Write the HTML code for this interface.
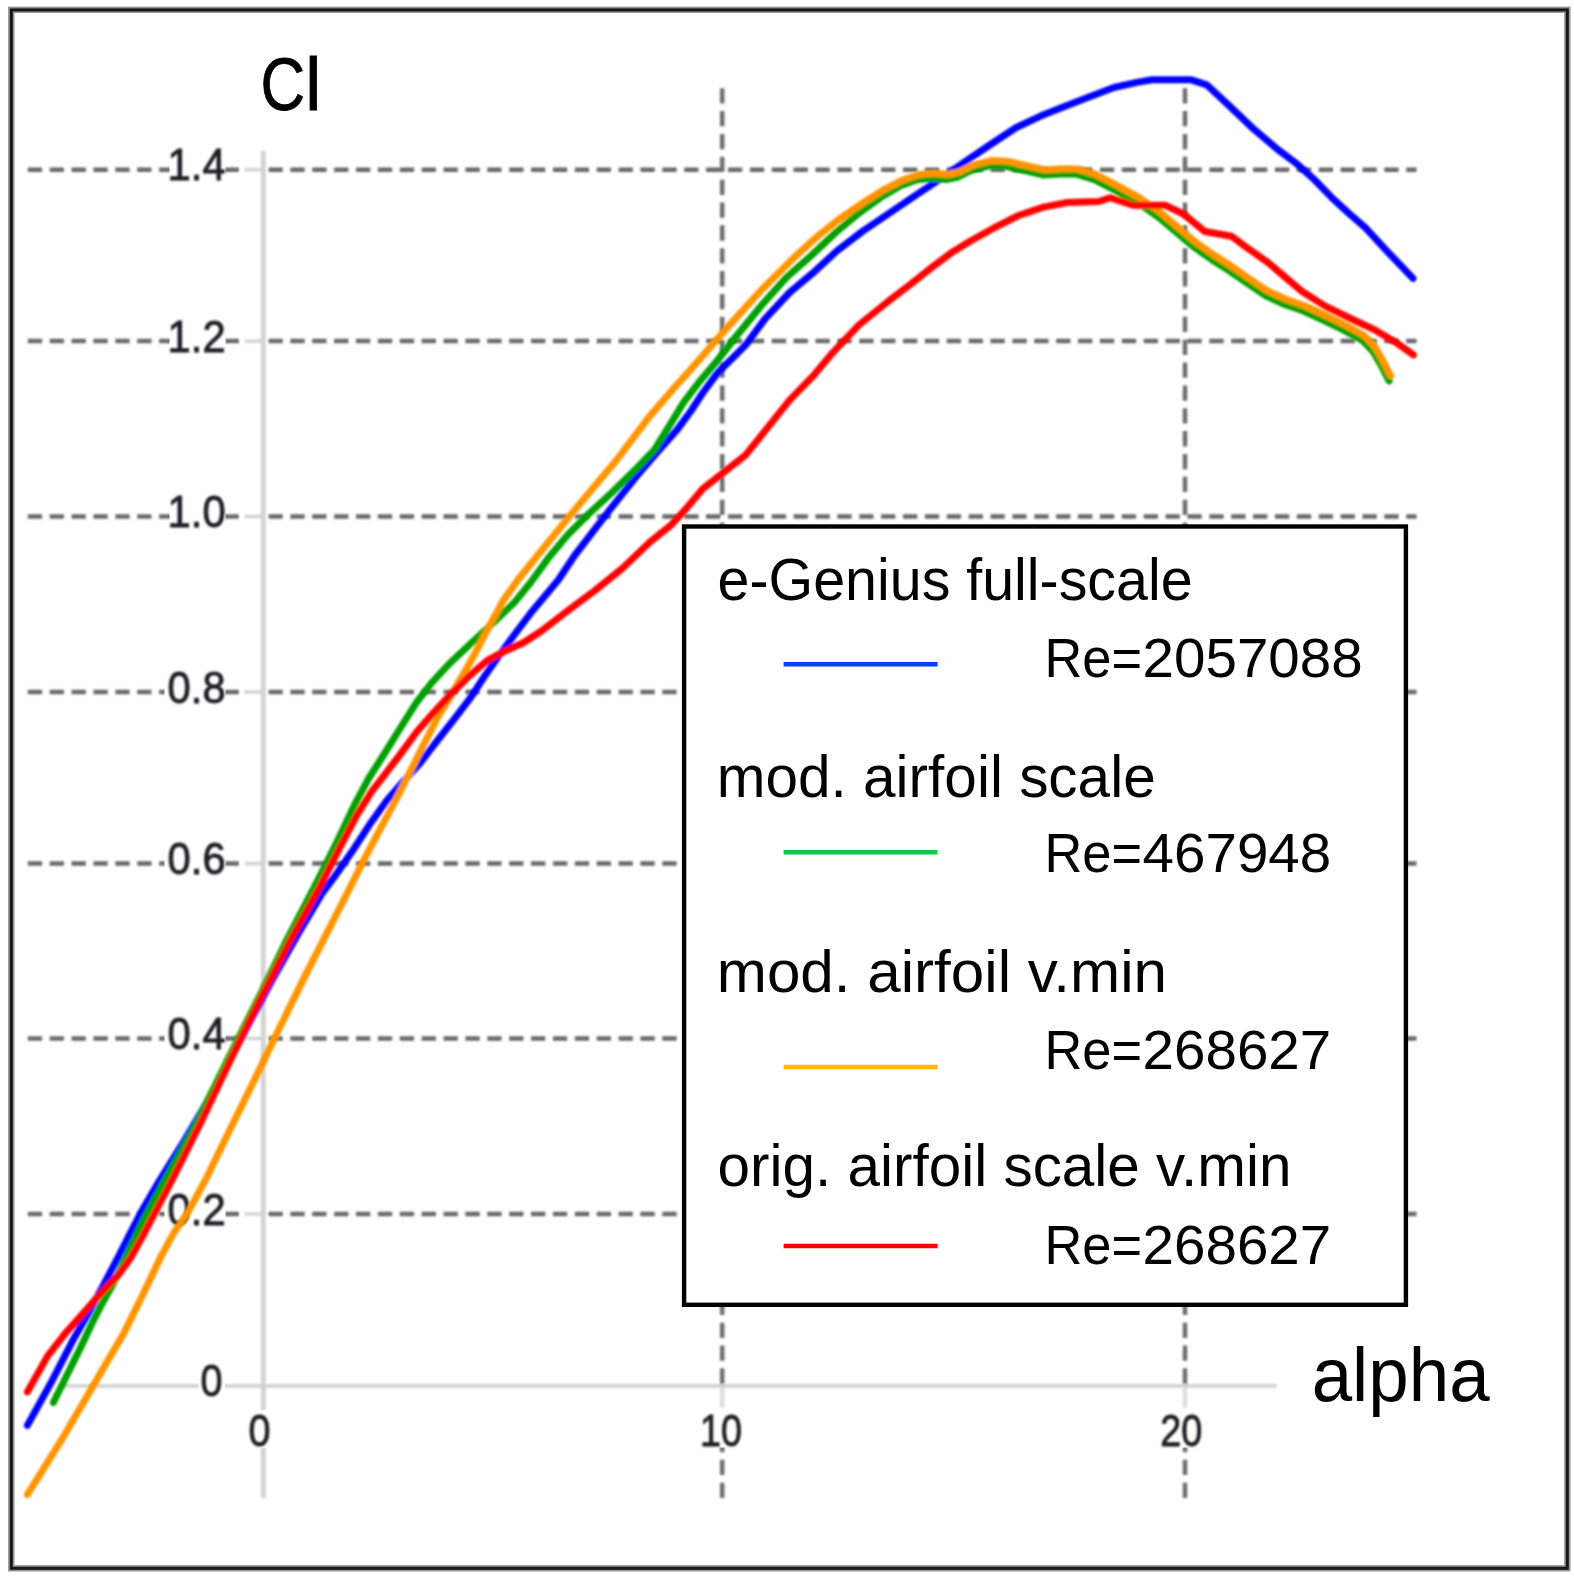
<!DOCTYPE html>
<html lang="en"><head><meta charset="utf-8"><title>Cl vs alpha</title>
<style>
html,body{margin:0;padding:0;background:#fff}
svg{display:block}
text{font-family:"Liberation Sans",sans-serif}
</style></head><body>
<svg width="1574" height="1584" viewBox="0 0 1574 1584">
<defs>
<filter id="b2" x="-5%" y="-5%" width="110%" height="110%"><feGaussianBlur stdDeviation="0.85"/></filter>
<filter id="b4" x="-2%" y="-2%" width="104%" height="104%"><feGaussianBlur stdDeviation="0.55"/></filter>
<filter id="b3" x="-20%" y="-20%" width="140%" height="140%"><feGaussianBlur stdDeviation="0.8"/></filter>
</defs>
<rect x="0" y="0" width="1574" height="1584" fill="#ffffff"/>
<g filter="url(#b4)"><rect x="11.3" y="9.8" width="1556" height="1558.5" fill="none" stroke="#000" stroke-opacity="0.42" stroke-width="6.4"/><rect x="11.3" y="9.9" width="1556" height="1558.4" fill="none" stroke="#121212" stroke-width="2.9"/></g>
<g filter="url(#b2)">
<line x1="27.8" y1="169.8" x2="1416.5" y2="169.8" stroke="#696969" stroke-width="4.5" stroke-dasharray="14.3 7.58"/>
<line x1="27.8" y1="341.1" x2="1416.5" y2="341.1" stroke="#696969" stroke-width="4.5" stroke-dasharray="14.3 7.58"/>
<line x1="27.8" y1="516.5" x2="1416.5" y2="516.5" stroke="#696969" stroke-width="4.5" stroke-dasharray="14.3 7.58"/>
<line x1="27.8" y1="692" x2="1416.5" y2="692" stroke="#696969" stroke-width="4.5" stroke-dasharray="14.3 7.58"/>
<line x1="27.8" y1="863.6" x2="1416.5" y2="863.6" stroke="#696969" stroke-width="4.5" stroke-dasharray="14.3 7.58"/>
<line x1="27.8" y1="1038.4" x2="1416.5" y2="1038.4" stroke="#696969" stroke-width="4.5" stroke-dasharray="14.3 7.58"/>
<line x1="27.8" y1="1214" x2="1416.5" y2="1214" stroke="#696969" stroke-width="4.5" stroke-dasharray="14.3 7.58"/>
<line x1="722.2" y1="88.2" x2="722.2" y2="1498.4" stroke="#6e6e6e" stroke-width="4.5" stroke-dasharray="15.3 7.56"/>
<line x1="1185.0" y1="88.2" x2="1185.0" y2="1498.4" stroke="#6e6e6e" stroke-width="4.5" stroke-dasharray="15.3 7.56"/>
<line x1="240" y1="169.8" x2="267" y2="169.8" stroke="#fff" stroke-width="7.5"/>
<line x1="244.5" y1="169.8" x2="263" y2="169.8" stroke="#d3d3d3" stroke-width="3.6"/>
<line x1="240" y1="341.1" x2="267" y2="341.1" stroke="#fff" stroke-width="7.5"/>
<line x1="244.5" y1="341.1" x2="263" y2="341.1" stroke="#d3d3d3" stroke-width="3.6"/>
<line x1="240" y1="516.5" x2="267" y2="516.5" stroke="#fff" stroke-width="7.5"/>
<line x1="244.5" y1="516.5" x2="263" y2="516.5" stroke="#d3d3d3" stroke-width="3.6"/>
<line x1="240" y1="692" x2="267" y2="692" stroke="#fff" stroke-width="7.5"/>
<line x1="244.5" y1="692" x2="263" y2="692" stroke="#d3d3d3" stroke-width="3.6"/>
<line x1="240" y1="863.6" x2="267" y2="863.6" stroke="#fff" stroke-width="7.5"/>
<line x1="244.5" y1="863.6" x2="263" y2="863.6" stroke="#d3d3d3" stroke-width="3.6"/>
<line x1="240" y1="1038.4" x2="267" y2="1038.4" stroke="#fff" stroke-width="7.5"/>
<line x1="244.5" y1="1038.4" x2="263" y2="1038.4" stroke="#d3d3d3" stroke-width="3.6"/>
<line x1="240" y1="1214" x2="267" y2="1214" stroke="#fff" stroke-width="7.5"/>
<line x1="244.5" y1="1214" x2="263" y2="1214" stroke="#d3d3d3" stroke-width="3.6"/>
<line x1="722.2" y1="1385" x2="722.2" y2="1411" stroke="#fff" stroke-width="7.5"/>
<line x1="722.2" y1="1385.8" x2="722.2" y2="1408" stroke="#dddddd" stroke-width="4.6"/>
<line x1="1185.0" y1="1385" x2="1185.0" y2="1411" stroke="#fff" stroke-width="7.5"/>
<line x1="1185.0" y1="1385.8" x2="1185.0" y2="1408" stroke="#dddddd" stroke-width="4.6"/>
<line x1="263.3" y1="151" x2="263.3" y2="1498" stroke="#d3d3d3" stroke-width="5"/>
<line x1="60" y1="1385.9" x2="1276.8" y2="1385.9" stroke="#d3d3d3" stroke-width="3.9"/>
</g>
<g fill="#ffffff">
<rect x="169.5" y="147.8" width="55.9" height="33.5"/>
<rect x="169.5" y="319.1" width="55.9" height="33.5"/>
<rect x="169.5" y="494.5" width="55.9" height="33.5"/>
<rect x="164.5" y="670.0" width="60.9" height="33.5"/>
<rect x="164.5" y="841.6" width="60.9" height="33.5"/>
<rect x="164.5" y="1016.4" width="60.9" height="33.5"/>
<rect x="164.5" y="1192.0" width="60.9" height="33.5"/>
<rect x="198.5" y="1363" width="26.5" height="34.5"/>
<rect x="247.5" y="1410" width="23.5" height="38.2"/>
<rect x="702" y="1411.5" width="39.5" height="36"/>
<rect x="1160" y="1411.5" width="43" height="36"/>
</g>
<g filter="url(#b3)" fill="#1c1c22" stroke="#1c1c22" stroke-width="0.9" font-size="44px">
<text x="225.6" y="180.4" text-anchor="end" textLength="58" lengthAdjust="spacingAndGlyphs">1.4</text>
<text x="225.6" y="351.7" text-anchor="end" textLength="58" lengthAdjust="spacingAndGlyphs">1.2</text>
<text x="225.6" y="527.1" text-anchor="end" textLength="58" lengthAdjust="spacingAndGlyphs">1.0</text>
<text x="225.6" y="702.6" text-anchor="end" textLength="58" lengthAdjust="spacingAndGlyphs">0.8</text>
<text x="225.6" y="874.2" text-anchor="end" textLength="58" lengthAdjust="spacingAndGlyphs">0.6</text>
<text x="225.6" y="1049.0" text-anchor="end" textLength="58" lengthAdjust="spacingAndGlyphs">0.4</text>
<text x="225.6" y="1224.6" text-anchor="end" textLength="58" lengthAdjust="spacingAndGlyphs">0.2</text>
<text x="222.4" y="1396.3" text-anchor="end" textLength="22" lengthAdjust="spacingAndGlyphs">0</text>
<text x="259.4" y="1445.8" text-anchor="middle" textLength="22" lengthAdjust="spacingAndGlyphs">0</text>
<text x="721" y="1445.8" text-anchor="middle" textLength="42" lengthAdjust="spacingAndGlyphs">10</text>
<text x="1181.3" y="1445.8" text-anchor="middle" textLength="42" lengthAdjust="spacingAndGlyphs">20</text>
</g>
<g filter="url(#b2)">
<polyline points="27.4,1425.4 50.7,1383.3 72.2,1341.6 89.0,1312.1 103.7,1284.6 117.4,1258.7 131.1,1231.7 143.2,1208.4 159.7,1180.3 185.0,1139.6 213.8,1090.4 244.1,1032.6 272.5,979.4 299.9,930.6 322.2,893.2 334.0,877.4 352.2,851.3 371.2,822.2 386.8,800.5 402.1,782.9 420.4,762.7 437.5,740.3 455.0,718.2 470.6,697.6 484.8,675.9 500.1,654.1 516.4,632.0 532.6,610.7 547.7,592.8 558.8,579.3 574.6,555.5 593.7,530.6 609.3,510.4 622.7,493.6 639.1,473.1 658.1,451.3 677.2,429.6 691.3,410.5 702.7,393.0 717.6,372.8 733.7,357.0 746.0,344.6 764.8,319.2 789.6,292.5 812.0,273.8 836.8,251.0 862.8,231.1 888.7,213.6 911.1,198.3 934.0,183.1 953.1,169.8 972.9,156.4 992.0,143.5 1016.3,127.5 1041.1,115.8 1065.1,106.2 1090.3,96.5 1113.9,87.5 1136.8,82.4 1152.0,79.8 1191.4,79.8 1206.7,84.8 1229.6,106.1 1253.2,128.6 1277.6,149.4 1297.4,164.3 1314.2,179.5 1332.5,198.4 1350.0,214.4 1365.3,227.7 1386.7,250.8 1413.0,278.4" fill="none" stroke="#0000ff" stroke-width="7.0" stroke-linejoin="round" stroke-linecap="round"/>
<polyline points="53.4,1402.5 66.5,1376.0 80.8,1347.1 93.0,1321.2 102.2,1303.4 112.8,1284.6 127.0,1255.0 143.2,1221.0 164.9,1180.4 196.2,1123.9 227.6,1060.0 247.6,1019.8 263.2,988.7 287.5,938.5 314.5,886.9 336.1,843.7 354.8,804.3 368.9,778.0 384.2,754.0 401.3,726.5 416.2,702.9 431.4,683.1 449.0,664.0 470.0,644.2 493.6,622.4 514.9,601.9 530.8,582.3 548.0,558.6 567.8,534.8 588.4,514.2 612.0,492.5 635.6,469.3 654.7,449.4 669.6,425.4 684.0,401.8 698.9,382.3 716.5,361.5 736.5,336.0 761.8,305.0 786.2,277.6 810.9,255.9 836.4,231.9 860.0,212.4 881.9,196.7 900.5,185.7 917.8,179.5 933.8,178.2 946.0,179.5 957.1,177.3 972.2,169.8 989.8,165.6 1006.5,166.3 1024.8,170.7 1043.1,174.9 1059.5,174.0 1076.3,174.1 1094.6,179.6 1116.3,190.9 1138.4,203.1 1158.2,216.8 1176.5,232.4 1193.3,246.5 1211.6,259.5 1229.4,270.8 1245.4,282.0 1265.5,295.6 1284.9,304.5 1303.0,310.7 1323.2,320.0 1345.3,330.9 1363.0,340.8 1373.2,351.5 1381.3,365.6 1389.2,380.8" fill="none" stroke="#00a000" stroke-width="7.0" stroke-linejoin="round" stroke-linecap="round"/>
<polyline points="27.4,1494.5 61.1,1440.7 87.2,1396.0 107.5,1360.9 123.5,1333.9 142.3,1295.8 160.6,1257.2 173.8,1232.8 188.0,1212.2 206.3,1178.3 233.1,1123.3 258.9,1070.7 278.7,1029.6 304.3,977.4 328.8,929.3 349.8,888.0 365.0,857.8 380.4,828.7 397.5,796.7 412.4,767.0 426.1,739.9 437.9,717.0 451.3,694.9 463.5,674.0 475.7,652.2 489.7,625.1 502.9,601.1 518.9,578.5 546.7,544.1 572.0,513.1 594.8,486.0 616.2,460.5 632.6,438.8 649.4,416.6 673.4,388.8 695.9,363.6 714.2,342.5 730.8,323.6 761.8,289.5 793.4,258.2 817.4,236.4 838.0,220.0 860.0,204.8 882.2,190.7 901.6,180.6 919.2,174.5 935.2,173.2 947.4,174.5 958.5,172.3 973.6,164.8 991.2,160.6 1007.9,161.3 1026.2,165.7 1044.5,169.9 1060.9,169.0 1077.7,169.1 1096.0,174.6 1117.7,185.9 1139.8,198.1 1159.6,211.8 1177.9,227.4 1194.7,241.5 1213.0,254.5 1230.8,265.8 1246.8,277.0 1266.9,290.6 1286.3,299.5 1304.4,305.7 1324.6,315.0 1346.7,325.9 1364.4,335.8 1374.6,346.5 1382.7,360.6 1390.6,375.8" fill="none" stroke="#ff9400" stroke-width="7.0" stroke-linejoin="round" stroke-linecap="round"/>
<polyline points="27.4,1391.9 47.7,1355.9 65.5,1333.2 82.3,1314.3 101.2,1292.7 117.9,1275.5 130.1,1258.7 141.8,1237.9 154.0,1214.5 172.3,1179.4 200.1,1123.9 232.3,1055.9 262.0,995.7 291.3,938.5 319.5,887.3 339.6,847.9 356.3,816.1 371.2,792.1 384.2,775.3 399.4,755.5 417.0,731.5 433.4,712.8 450.5,694.5 469.2,675.9 487.8,660.2 505.8,650.7 523.3,642.8 541.1,631.2 566.7,611.5 594.9,590.5 622.8,568.0 650.2,541.7 670.8,525.3 686.8,507.8 702.8,488.7 722.2,473.5 745.1,455.6 766.8,428.6 789.6,400.1 814.4,374.6 833.0,352.3 859.0,324.9 887.9,301.6 909.6,284.9 929.8,268.9 951.6,252.6 970.9,240.7 993.4,228.2 1017.8,215.8 1043.4,207.1 1067.4,202.5 1098.7,201.5 1110.1,197.7 1133.0,205.3 1165.4,205.3 1183.5,214.0 1204.8,231.5 1231.5,236.3 1247.5,248.1 1268.4,262.8 1284.4,276.5 1302.5,291.8 1325.2,306.1 1351.5,319.0 1375.3,330.2 1395.1,341.9 1413.4,354.9" fill="none" stroke="#ff0000" stroke-width="7.0" stroke-linejoin="round" stroke-linecap="round"/>
</g>
<rect x="684.1" y="526.5" width="721.8" height="778.3" fill="#ffffff" stroke="#000" stroke-width="4.4"/>
<g fill="#000">
<text x="717.6" y="600.2" font-size="59px" textLength="475" lengthAdjust="spacingAndGlyphs">e-Genius full-scale</text>
<text y="677.3" font-size="56px"><tspan x="1044.4" textLength="97.6" lengthAdjust="spacingAndGlyphs">Re=</tspan><tspan x="1142.6" textLength="220" lengthAdjust="spacingAndGlyphs">2057088</tspan></text>
<line x1="783.6" y1="664.3" x2="937.6" y2="664.3" stroke="#0040ff" stroke-width="4.4"/>
<text x="716.8" y="797.2" font-size="59px" textLength="438.9" lengthAdjust="spacingAndGlyphs">mod. airfoil scale</text>
<text y="872.3" font-size="56px"><tspan x="1044.4" textLength="97.6" lengthAdjust="spacingAndGlyphs">Re=</tspan><tspan x="1142.6" textLength="188.6" lengthAdjust="spacingAndGlyphs">467948</tspan></text>
<line x1="783.6" y1="852.3" x2="937.6" y2="852.3" stroke="#00cc44" stroke-width="4.4"/>
<text x="716.8" y="991.8" font-size="59px" textLength="450.2" lengthAdjust="spacingAndGlyphs">mod. airfoil v.min</text>
<text y="1068.8" font-size="56px"><tspan x="1044.4" textLength="97.6" lengthAdjust="spacingAndGlyphs">Re=</tspan><tspan x="1142.6" textLength="188.6" lengthAdjust="spacingAndGlyphs">268627</tspan></text>
<line x1="783.6" y1="1067" x2="937.6" y2="1067" stroke="#ffb900" stroke-width="4.4"/>
<text x="717.6" y="1185.7" font-size="59px" textLength="573.8" lengthAdjust="spacingAndGlyphs">orig. airfoil scale v.min</text>
<text y="1263.8" font-size="56px"><tspan x="1044.4" textLength="97.6" lengthAdjust="spacingAndGlyphs">Re=</tspan><tspan x="1142.6" textLength="188.6" lengthAdjust="spacingAndGlyphs">268627</tspan></text>
<line x1="783.6" y1="1246" x2="937.6" y2="1246" stroke="#ff0000" stroke-width="4.4"/>
</g>
<text y="109.6" font-size="75px" fill="#000" stroke="#000" stroke-width="0.8"><tspan x="260.6" textLength="44.6" lengthAdjust="spacingAndGlyphs">C</tspan><tspan x="304.9">l</tspan></text>
<text x="1311.7" y="1400.7" font-size="76.5px" fill="#000" textLength="177.9" lengthAdjust="spacingAndGlyphs">alpha</text>
</svg></body></html>
